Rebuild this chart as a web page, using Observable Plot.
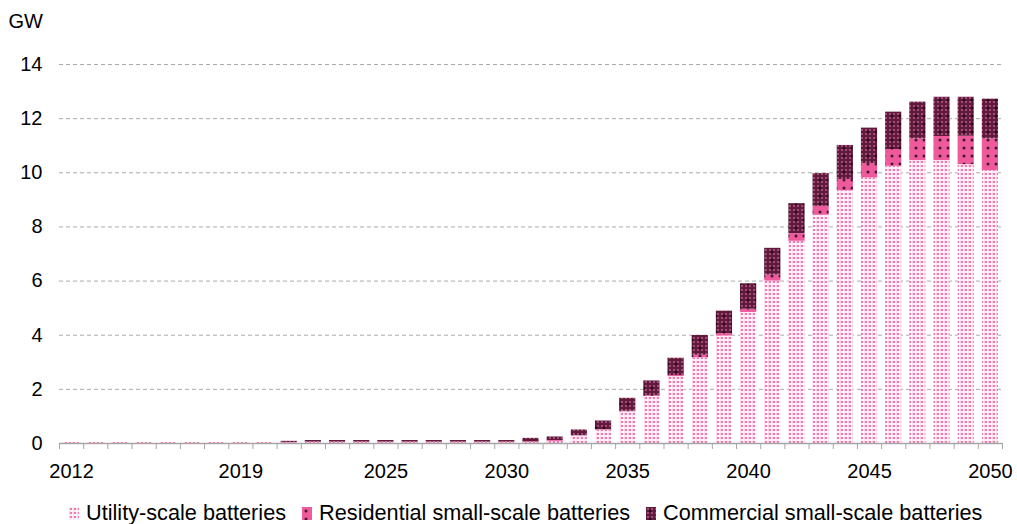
<!DOCTYPE html>
<html><head><meta charset="utf-8">
<script src="https://cdn.jsdelivr.net/npm/d3@7"></script>
<script src="https://cdn.jsdelivr.net/npm/@observablehq/plot@0.6"></script>
<style>
body{margin:0;background:#fff;font-family:"Liberation Sans",Arial,sans-serif;}
#chart svg{display:block}
.legend{display:flex;align-items:center;height:24px;margin-top:11px;padding-left:69px;font-size:21.7px;color:#000;white-space:nowrap}
.legend .item{display:flex;align-items:center;margin-right:16px}
.legend svg{display:block;margin-right:7px}
</style></head>
<body>
<svg width="0" height="0" style="position:absolute">
<defs>
<pattern id="pU" width="4" height="4" patternUnits="userSpaceOnUse">
 <rect width="4" height="4" fill="#fff"/>
 <rect x="0" y="0" width="0.6" height="4" fill="#fbd3e6"/>
 <circle cx="2" cy="2" r="1.3" fill="#f27ab3"/>
</pattern>
<pattern id="pR" width="8" height="8" patternUnits="userSpaceOnUse">
 <rect width="8" height="8" fill="#ef5a9d"/>
 <circle cx="4" cy="4" r="1.5" fill="#4a1530"/>
</pattern>
<pattern id="pC" width="8" height="8" patternUnits="userSpaceOnUse">
 <rect width="8" height="8" fill="#5e1b3b"/>
 <circle cx="2" cy="2" r="1" fill="#c0588a"/>
 <circle cx="6" cy="2" r="1" fill="#c0588a"/>
 <circle cx="2" cy="6" r="1" fill="#c0588a"/>
 <circle cx="6" cy="6" r="1" fill="#c0588a"/>
 <circle cx="4" cy="4" r="1.3" fill="#2a0a18"/>
</pattern>
</defs></svg>
<div id="chart"></div>
<div class="legend" id="legend"></div>
<script>
const years = [2012,2013,2014,2015,2016,2017,2018,2019,2020,2021,2022,2023,2024,2025,2026,2027,2028,2029,2030,2031,2032,2033,2034,2035,2036,2037,2038,2039,2040,2041,2042,2043,2044,2045,2046,2047,2048,2049,2050];
const series = ["Utility-scale batteries","Residential small-scale batteries","Commercial small-scale batteries"];
const utility =     [0.04,0.04,0.04,0.04,0.04,0.04,0.04,0.04,0.04,0.02,0.03,0.03,0.03,0.03,0.03,0.03,0.03,0.03,0.03,0.04,0.08,0.28,0.50,1.17,1.74,2.47,3.17,3.97,4.84,6.00,7.47,8.43,9.34,9.81,10.24,10.45,10.45,10.30,10.08];
const residential = [0,0,0,0,0,0,0,0,0,0.01,0.02,0.02,0.02,0.02,0.02,0.02,0.02,0.02,0.02,0.02,0.03,0.01,0.01,0.02,0.03,0.04,0.09,0.09,0.12,0.22,0.28,0.33,0.41,0.53,0.62,0.80,0.89,1.05,1.17];
const commercial =  [0,0,0,0,0,0,0,0,0,0.05,0.06,0.06,0.06,0.06,0.06,0.06,0.06,0.06,0.06,0.13,0.13,0.21,0.32,0.48,0.54,0.64,0.73,0.83,0.94,0.99,1.11,1.21,1.26,1.31,1.38,1.36,1.45,1.44,1.47];
const labelYears = [2012,2019,2025,2030,2035,2040,2045,2050];
const yTicks = [0,2,4,6,8,10,12,14];
const patterns = ["url(#pU)","url(#pR)","url(#pC)"];

const table = [];
[utility, residential, commercial].forEach((vals, s) => years.forEach((yr, i) => {
  table.push({year: yr, x1: yr - 0.5, x2: yr + 0.5, series: series[s], value: vals[i]});
}));
const edges = years.map(y => y - 0.5).concat([years[years.length - 1] + 0.5]);

const chart = Plot.plot({
  width: 1017, height: 490,
  marginLeft: 59, marginRight: 15, marginTop: 64, marginBottom: 47,
  style: {fontFamily: "'Liberation Sans', Arial, sans-serif", fontSize: "20px", color: "#000", background: "#fff"},
  x: {type: "linear", domain: [edges[0], edges[edges.length - 1]], label: null},
  y: {domain: [0, 14], label: null},
  color: {domain: series, range: patterns},
  marks: [
    Plot.gridY(yTicks.slice(1), {stroke: "#ababab", strokeOpacity: 1, strokeDasharray: "4,3"}),
    Plot.rectY(table, {x1: "x1", x2: "x2", y: "value", fill: "series", insetLeft: 4, insetRight: 4}),
    Plot.ruleY([0], {stroke: "#a6a6a6", strokeWidth: 1.5}),
    Plot.axisX(edges, {tickSize: 6, tickFormat: () => "", stroke: "#a6a6a6", label: null}),
    Plot.axisX(labelYears, {tickSize: 0, tickPadding: 20, tickFormat: d => String(d), fontSize: 20, label: null}),
    Plot.axisY(yTicks, {tickSize: 0, tickPadding: 17, label: null, fontSize: 20}),
    Plot.text(["GW"], {frameAnchor: "top-left", lineAnchor: "middle", dx: -51, dy: -43, textAnchor: "start", fontSize: 20})
  ]
});
document.getElementById("chart").appendChild(chart);

const legend = document.getElementById("legend");
series.forEach((name, i) => {
  const item = document.createElement("div");
  item.className = "item";
  item.innerHTML = `<svg width="10" height="13"><rect width="10" height="13" fill="${patterns[i]}"/></svg><span>${name}</span>`;
  legend.appendChild(item);
});
</script>
</body></html>
